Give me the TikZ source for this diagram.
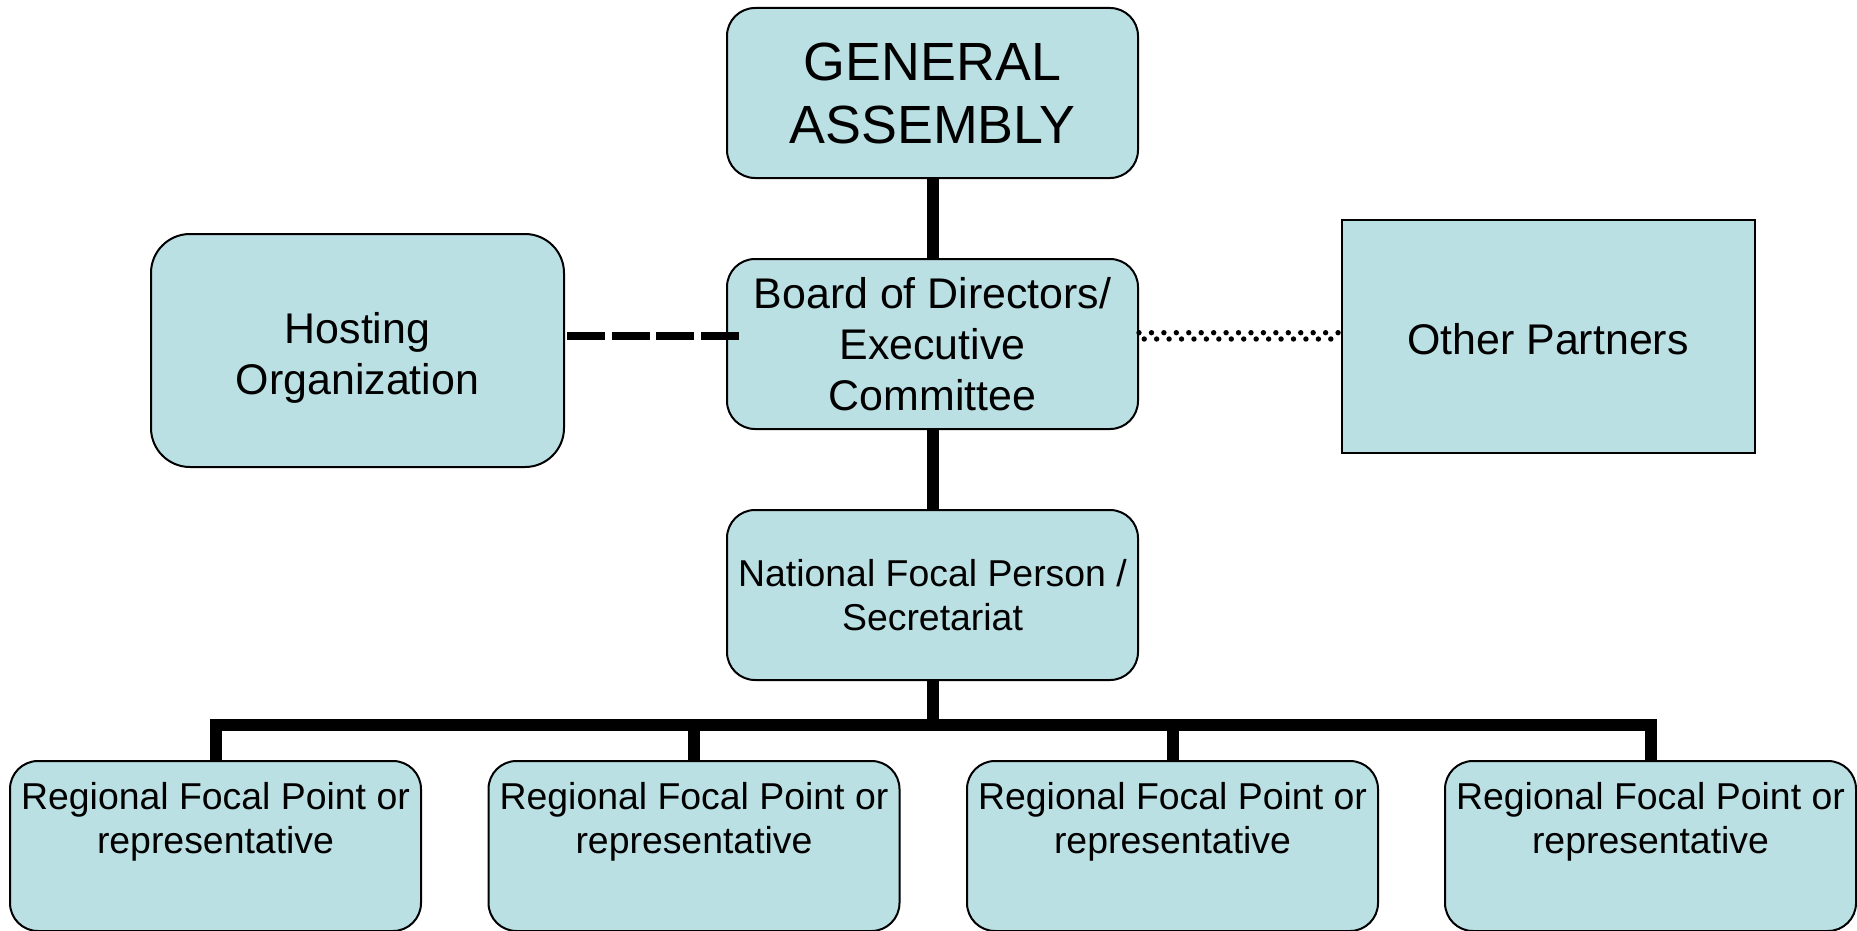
\documentclass[tikz,border=0pt]{standalone}
\usepackage{fontspec}
\setmainfont{Liberation Sans}
\definecolor{boxfill}{RGB}{187,224,227}
\begin{document}
\begin{tikzpicture}[x=0.5pt,y=-0.5pt,
  box/.style={draw=black, line width=1pt, fill=boxfill, align=center, inner sep=0pt,
    minimum width=205.5pt, minimum height=85pt, rounded corners=14pt},
  widebox/.style={box, minimum width=206.5pt, minimum height=116.5pt},
  gafont/.style={font=\fontsize{26.9pt}{31.5pt}\selectfont},
  midfont/.style={font=\fontsize{21.45pt}{25.5pt}\selectfont},
  smfont/.style={font=\fontsize{18.7pt}{22pt}\selectfont},
  txt/.style={align=center, inner sep=0pt},
  regtext/.style={smfont, txt, anchor=north},
  conn/.style={draw=black, line width=6pt},
  dashconn/.style={draw=black, line width=4pt, dash pattern=on 19pt off 3.3pt},
  dotconn/.style={draw=black, line width=2.7pt, line cap=round, dash pattern=on 0pt off 6.22pt}]
\useasboundingbox (0,0) rectangle (1857,931);
\fill[white] (0,0) rectangle (1857,931);

\node[box, gafont] (ga) at (932.5,93) {GENERAL\\ASSEMBLY};
\node[box, midfont] (board) at (932.5,344) {Board of Directors/\\Executive\\Committee};
\node[box, smfont] (nfp) at (932.5,595) {National Focal Person /\\Secretariat};
\node[widebox, rounded corners=19.5pt] (host) at (357.5,350.5) {};
\node[midfont, txt] (hostt) at (357.5,357.5) {Hosting\\Organization};
\node[widebox, sharp corners] (other) at (1548,336.5) {};
\node[midfont, txt] (othert) at (1548,339) {Other Partners};

\node[box] (r1) at (215.5,846) {};
\node[box] (r2) at (694,846) {};
\node[box] (r3) at (1172.5,846) {};
\node[box] (r4) at (1650.5,846) {};
\node[regtext] (r1t) at (215.5,782) {Regional Focal Point or\\representative};
\node[regtext] (r2t) at (694,782) {Regional Focal Point or\\representative};
\node[regtext] (r3t) at (1172.5,782) {Regional Focal Point or\\representative};
\node[regtext] (r4t) at (1650.5,782) {Regional Focal Point or\\representative};

\coordinate (bus) at (932.5,725);
\coordinate (dashy) at (0,336);
\coordinate (dotA) at (0,332.7);
\coordinate (dotB) at (0,339);

\draw[conn] (ga.south) -- (board.north);
\draw[conn] (board.south) -- (nfp.north);
\draw[conn] (nfp.south) -- (bus);
\draw[conn] (r1.north) -- (r1.north |- bus) -- (r4.north |- bus) -- (r4.north);
\draw[conn] (r2.north) -- (r2.north |- bus);
\draw[conn] (r3.north) -- (r3.north |- bus);

\draw[dashconn] ([xshift=1pt]host.east |- dashy) -- ([xshift=6.5pt]board.west |- dashy);
\draw[dotconn] (board.east |- dotA) -- (other.west |- dotA);
\draw[dotconn] ([xshift=2.6pt]board.east |- dotB) -- ([xshift=0.6pt]other.west |- dotB);
\end{tikzpicture}
\end{document}
